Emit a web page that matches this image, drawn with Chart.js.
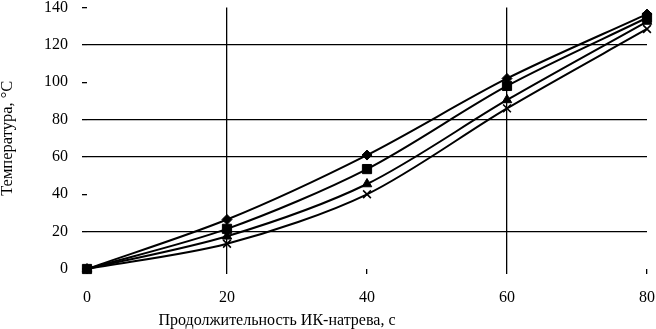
<!DOCTYPE html>
<html lang="ru">
<head>
    <meta charset="UTF-8">
    <title>Температура при ИК-нагреве</title>
    <script src="https://cdn.jsdelivr.net/npm/chart.js"></script>
    <style>
        html, body { margin: 0; padding: 0; background: #fff; }
        #wrap { width: 656px; height: 329px; position: relative; }
    </style>
</head>
<body>
    <div id="wrap"><canvas id="chart"></canvas></div>
    <script>
        // data
        const seconds = [0, 20, 40, 60, 80];
        const seriesDiamond = [0, 26.5, 61, 102, 136.5];
        const seriesSquare = [0, 21.5, 53.5, 98, 134.5];
        const seriesTriangle = [0, 17.5, 45.5, 90.5, 132.5];
        const seriesCross = [0, 13.5, 40, 86, 128.5];
        const yTicks = [0, 20, 40, 60, 80, 100, 120, 140];
        const xTitle = 'Продолжительность ИК-натрева, с';
        const yTitle = 'Температура, °С';

        const fontFamily = "'Liberation Serif', 'DejaVu Serif', serif";
        const font = { family: fontFamily, size: 16 };
        Chart.defaults.color = '#000';

        function line(values, style, radius, order) {
            return {
                data: seconds.map((s, i) => ({ x: s, y: values[i] })),
                borderColor: '#000',
                backgroundColor: '#000',
                borderWidth: 2,
                pointStyle: style,
                pointRadius: radius,
                pointBorderWidth: style === 'crossRot' ? 1.6 : 1,
                pointBorderColor: '#000',
                pointBackgroundColor: '#000',
                tension: 0.3,
                clip: false,
                order: order
            };
        }

        // grid lines only on some values, like the scan
        const yGrid = [20, 60, 80, 120];
        const xGrid = [20, 60];

        // x title sits left of the plot centre in the original
        const xTitlePlugin = {
            id: 'xTitle',
            afterDraw(chart) {
                const ctx = chart.ctx;
                const area = chart.chartArea;
                ctx.save();
                ctx.font = '16px ' + fontFamily;
                ctx.fillStyle = '#000';
                ctx.textAlign = 'center';
                ctx.textBaseline = 'middle';
                ctx.fillText(xTitle, area.left + 190, area.bottom + 52);
                ctx.restore();
            }
        };

        new Chart(document.getElementById('chart'), {
            type: 'line',
            data: {
                datasets: [
                    line(seriesDiamond, 'rectRot', 5, 0),
                    line(seriesSquare, 'rect', 6.5, -1),
                    line(seriesTriangle, 'triangle', 5.5, 1),
                    line(seriesCross, 'crossRot', 5.5, 2)
                ]
            },
            plugins: [xTitlePlugin],
            options: {
                responsive: true,
                maintainAspectRatio: false,
                animation: false,
                layout: { padding: { top: 5, right: 9, left: 0, bottom: 0 } },
                plugins: { legend: { display: false }, tooltip: { enabled: false } },
                scales: {
                    x: {
                        type: 'linear',
                        min: 0, max: 80,
                        border: { display: false },
                        afterBuildTicks: s => { s.ticks = seconds.map(v => ({ value: v })); },
                        afterFit: s => { s.height = 60; s.paddingLeft = 0; s.paddingRight = 0; },
                        grid: {
                            color: c => xGrid.includes(c.tick && c.tick.value) ? '#000' : 'rgba(0,0,0,0)',
                            lineWidth: 1.3,
                            tickColor: '#000',
                            tickLength: 5
                        },
                        ticks: { font: font, padding: 14, maxRotation: 0 }
                    },
                    y: {
                        min: 0, max: 140,
                        border: { display: false },
                        afterBuildTicks: s => { s.ticks = yTicks.map(v => ({ value: v })); },
                        afterFit: s => { s.width = 87; s.paddingTop = 0; s.paddingBottom = 0; },
                        grid: {
                            color: c => yGrid.includes(c.tick && c.tick.value) ? '#000' : 'rgba(0,0,0,0)',
                            lineWidth: 1.3,
                            tickColor: '#000',
                            tickLength: 5
                        },
                        ticks: { font: font, padding: 14 },
                        title: {
                            display: true,
                            text: yTitle,
                            font: { family: fontFamily, size: 16.5 },
                            padding: { top: -2, bottom: 0 }
                        }
                    }
                }
            }
        });
    </script>
</body>
</html>
